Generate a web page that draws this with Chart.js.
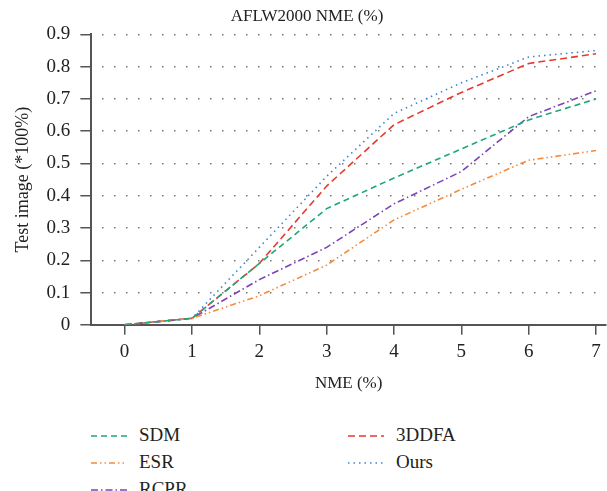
<!DOCTYPE html>
<html>
<head>
<meta charset="utf-8">
<script src="https://cdn.jsdelivr.net/npm/chart.js@4/dist/chart.umd.min.js"></script>
<style>
  body { margin: 0; background: #fff; font-family: "Liberation Serif", serif; }
  #wrap { position: relative; width: 607px; height: 491px; overflow: hidden; }
  #box { position: absolute; left: 0; top: 0; width: 607px; height: 398px; }
  .leg { position: absolute; font-size: 19px; color: #222; line-height: 22px; }
  .leg svg { position: absolute; left: 0; top: 10px; }
  .leg span { position: absolute; left: 48px; top: 0; white-space: nowrap; }
</style>
</head>
<body>
<div id="wrap">
  <div id="box"><canvas id="chart"></canvas></div>
  <div id="legend"></div>
</div>
<script>
var nme = [0, 1, 2, 3, 4, 5, 6, 7];
var sdm   = [0, 0.02, 0.19, 0.36, 0.455, 0.545, 0.635, 0.70];
var esr   = [0, 0.02, 0.09, 0.185, 0.325, 0.42, 0.51, 0.54];
var rcpr  = [0, 0.02, 0.14, 0.24, 0.375, 0.475, 0.645, 0.725];
var ddfa  = [0, 0.02, 0.19, 0.43, 0.62, 0.72, 0.81, 0.84];
var ours  = [0, 0.02, 0.24, 0.46, 0.655, 0.75, 0.83, 0.85];
var yTicks = [0, 0.1, 0.2, 0.3, 0.4, 0.5, 0.6, 0.7, 0.8, 0.9];

var series = [
  { name: "SDM",   data: sdm,  color: "#1ea878", dash: [6, 4] },
  { name: "ESR",   data: esr,  color: "#f58a3c", dash: [6, 3, 1.5, 3, 1.5, 3] },
  { name: "RCPR",  data: rcpr, color: "#7c44b4", dash: [7, 3, 1.5, 3] },
  { name: "3DDFA", data: ddfa, color: "#e8392e", dash: [7, 4] },
  { name: "Ours",  data: ours, color: "#3b86d6", dash: [1.5, 4] }
];

function pts(arr) {
  return arr.map(function (v, i) { return { x: nme[i], y: v }; });
}

var font = { family: "Liberation Serif", size: 19 };

new Chart(document.getElementById("chart"), {
  type: "line",
  data: {
    datasets: series.map(function (s) {
      return {
        label: s.name,
        data: pts(s.data),
        borderColor: s.color,
        borderDash: s.dash,
        borderWidth: 1.6,
        pointRadius: 0,
        fill: false,
        tension: 0
      };
    })
  },
  options: {
    responsive: true,
    maintainAspectRatio: false,
    animation: false,
    layout: { padding: { left: 8, right: 1, top: 0, bottom: 0 } },
    plugins: {
      legend: { display: false },
      tooltip: { enabled: false },
      title: {
        display: true,
        text: "AFLW2000 NME (%)",
        color: "#222",
        font: { family: "Liberation Serif", size: 17, weight: "normal" },
        padding: { top: 6, bottom: 8 }
      }
    },
    scales: {
      x: {
        type: "linear",
        min: -0.494,
        max: 7.148,
        afterBuildTicks: function (axis) {
          axis.ticks = nme.map(function (v) { return { value: v }; });
        },
        grid: { drawOnChartArea: false, drawTicks: true, tickLength: 10, color: "#555", lineWidth: 1.5 },
        border: { color: "#555", width: 2 },
        ticks: { color: "#222", font: font, padding: 6 },
        title: { display: true, text: "NME (%)", color: "#222", font: { family: "Liberation Serif", size: 17 }, padding: { top: 4 } }
      },
      y: {
        min: 0,
        max: 0.9,
        afterBuildTicks: function (axis) {
          axis.ticks = yTicks.map(function (v) { return { value: v }; });
        },
        grid: { color: "#777", lineWidth: 1.5, drawTicks: true, tickLength: 11, tickColor: "#555", tickWidth: 1.5, tickBorderDash: [] },
        border: { color: "#555", width: 2, dash: [1.5, 10.5], dashOffset: -10 },
        ticks: {
          color: "#222", font: font, padding: 10,
          callback: function (v) { return v === 0 ? "0" : v.toFixed(1); }
        },
        title: { display: true, text: "Test image (*100%)", color: "#222", font: { family: "Liberation Serif", size: 18 }, padding: { bottom: 3 } }
      }
    }
  }
});

// two-column legend below the chart
var legendPos = [
  { left: 91, top: 424 }, { left: 91, top: 451 }, { left: 91, top: 478 },
  { left: 348, top: 424 }, { left: 348, top: 451 }
];
var legend = document.getElementById("legend");
series.forEach(function (s, i) {
  var d = document.createElement("div");
  d.className = "leg";
  d.style.left = legendPos[i].left + "px";
  d.style.top = legendPos[i].top + "px";
  d.innerHTML = '<svg width="36" height="4"><line x1="0" y1="2" x2="36" y2="2" stroke="' + s.color +
    '" stroke-width="1.6" stroke-dasharray="' + s.dash.join(" ") + '"/></svg><span>' + s.name + '</span>';
  legend.appendChild(d);
});
</script>
</body>
</html>
